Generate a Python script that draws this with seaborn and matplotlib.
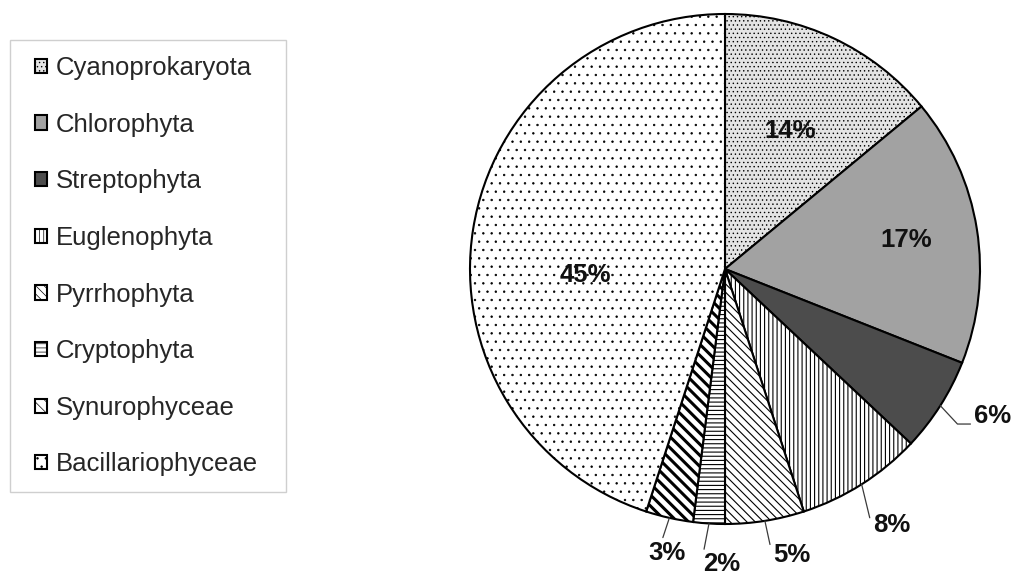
import matplotlib.pyplot as plt
import seaborn as sns
import numpy as np
from matplotlib.patches import Rectangle

# Phytoplankton groups and their share of taxa (%)
groups = [
    "Cyanoprokaryota",
    "Chlorophyta",
    "Streptophyta",
    "Euglenophyta",
    "Pyrrhophyta",
    "Cryptophyta",
    "Synurophyceae",
    "Bacillariophyceae",
]
shares = [14, 17, 6, 8, 5, 2, 3, 45]

# fill styles (black & white print look)
fills = ["#e4e4e4", "#a2a2a2", "#4c4c4c", "white", "white", "white", "white", "white"]
hatches = ["....", None, None, "||||", "\\\\\\\\", "----", "\\\\\\", ".."]

sns.set_theme(style="white")
plt.rcParams["font.family"] = ["Liberation Sans", "DejaVu Sans"]
plt.rcParams["hatch.linewidth"] = 0.5

W, H = 1011, 576
fig = plt.figure(figsize=(W / 100, H / 100), dpi=100)

# pie axes: centre at (725, 269) px, radius 255 px
R, cx, cy = 255, 725, 269
ax = fig.add_axes([(cx - R) / W, (H - cy - R) / H, 2 * R / W, 2 * R / H])
wedges, _ = ax.pie(
    shares,
    colors=fills,
    startangle=90,
    counterclock=False,
    wedgeprops=dict(edgecolor="black", linewidth=1.5),
)
for w, h in zip(wedges, hatches):
    if h:
        w.set_hatch(h)
# line hatches a bit heavier, Synurophyceae stripes thick
if hasattr(wedges[6], "set_hatch_linewidth"):
    for k in (3, 4, 5):
        wedges[k].set_hatch_linewidth(0.8)
    wedges[6].set_hatch_linewidth(2.2)
ax.set_xlim(-1, 1)
ax.set_ylim(-1, 1)

label_font = dict(fontsize=18.5, fontweight="bold", color="#111111")

# labels inside the big wedges: index -> (radius, angle shift in deg)
inside = {0: (0.6, 0), 1: (0.72, 0), 7: (0.55, 11.5)}
# labels outside with leader lines: index -> (offset px, relpos, connection)
outside = {
    2: ((52, -10), (0.0, 0.15), "angle,angleA=0,angleB=-47,rad=0"),
    3: ((30, -41), (0.0, 0.25), "arc3"),
    4: ((27, -34), (0.0, 0.3), "arc3"),
    5: ((13, -41), (0.0, 1.0), "arc3"),
    6: ((-2, -35), (0.35, 1.0), "arc3"),
}

for i, w in enumerate(wedges):
    mid_deg = (w.theta1 + w.theta2) / 2
    txt = f"{shares[i]}%"
    if i in inside:
        r, shift = inside[i]
        a = np.deg2rad(mid_deg + shift)
        ax.text(r * np.cos(a), r * np.sin(a), txt, ha="center", va="center", **label_font)
    else:
        a = np.deg2rad(mid_deg)
        off, rel, conn = outside[i]
        ax.annotate(
            txt,
            xy=(np.cos(a), np.sin(a)),
            xytext=off,
            textcoords="offset pixels",
            ha="center",
            va="center",
            annotation_clip=False,
            arrowprops=dict(
                arrowstyle="-",
                color="#3a3a3a",
                lw=0.9,
                relpos=rel,
                shrinkA=0,
                shrinkB=0,
                connectionstyle=conn,
            ),
            **label_font,
        )

# legend with a plain light frame
leg = fig.legend(
    wedges,
    groups,
    loc="upper left",
    bbox_to_anchor=(35 / W, 1 - 56 / H),
    frameon=False,
    fontsize=18.5,
    handlelength=0.48,
    handleheight=0.48,
    handletextpad=0.33,
    labelspacing=1.27,
    borderpad=0,
    borderaxespad=0,
)
fig.add_artist(
    Rectangle(
        (10 / W, 1 - 492 / H),
        276 / W,
        452 / H,
        transform=fig.transFigure,
        fill=False,
        edgecolor="#cfcfcf",
        linewidth=1.0,
    )
)

fig.savefig("out.png", dpi=100)
